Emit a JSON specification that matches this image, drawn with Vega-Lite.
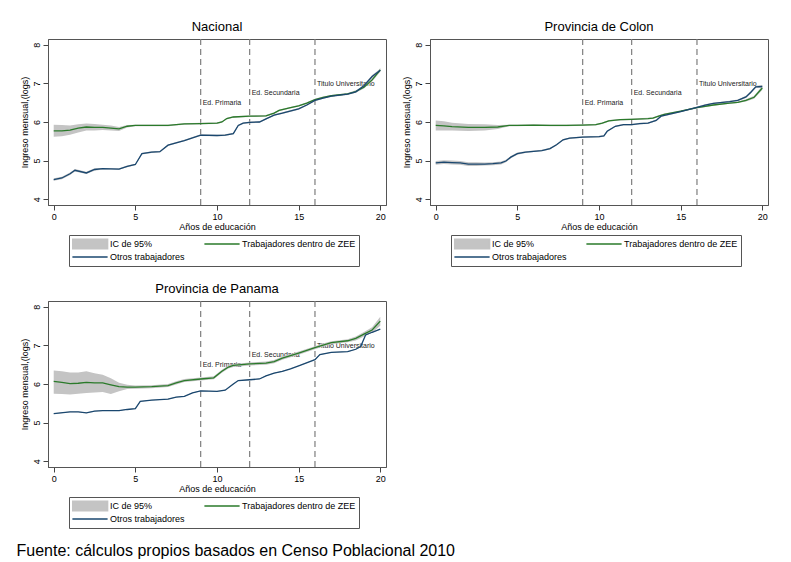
{
  "$schema": "https://vega.github.io/schema/vega-lite/v6.json",
  "background": "white",
  "padding": {"left": 16, "top": 20, "right": 5, "bottom": 2},
  "title": {
    "text": "Fuente: cálculos propios basados en Censo Poblacional 2010",
    "orient": "bottom",
    "anchor": "start",
    "fontSize": 16,
    "offset": 15,
    "dx": -3,
    "dy": -1
  },
  "datasets": {
    "hitos": [
      {"x": 9, "y": 6.48, "t": "Ed. Primaria"},
      {"x": 12, "y": 6.74, "t": "Ed. Secundaria"},
      {"x": 16, "y": 6.98, "t": "Titulo Universitario"}
    ],
    "curvas": [
      {"p": "N", "s": "Trabajadores dentro de ZEE", "x": 0, "y": 5.77, "lo": 5.62, "hi": 5.93},
      {"p": "N", "s": "Trabajadores dentro de ZEE", "x": 0.5, "y": 5.77, "lo": 5.63, "hi": 5.92},
      {"p": "N", "s": "Trabajadores dentro de ZEE", "x": 1, "y": 5.79, "lo": 5.67, "hi": 5.91},
      {"p": "N", "s": "Trabajadores dentro de ZEE", "x": 1.5, "y": 5.84, "lo": 5.73, "hi": 5.94},
      {"p": "N", "s": "Trabajadores dentro de ZEE", "x": 2, "y": 5.87, "lo": 5.78, "hi": 5.96},
      {"p": "N", "s": "Trabajadores dentro de ZEE", "x": 2.5, "y": 5.86, "lo": 5.78, "hi": 5.95},
      {"p": "N", "s": "Trabajadores dentro de ZEE", "x": 3, "y": 5.86, "lo": 5.79, "hi": 5.93},
      {"p": "N", "s": "Trabajadores dentro de ZEE", "x": 3.5, "y": 5.84, "lo": 5.78, "hi": 5.91},
      {"p": "N", "s": "Trabajadores dentro de ZEE", "x": 4, "y": 5.82, "lo": 5.77, "hi": 5.87},
      {"p": "N", "s": "Trabajadores dentro de ZEE", "x": 4.5, "y": 5.89, "lo": 5.86, "hi": 5.92},
      {"p": "N", "s": "Trabajadores dentro de ZEE", "x": 5, "y": 5.91, "lo": 5.89, "hi": 5.93},
      {"p": "N", "s": "Trabajadores dentro de ZEE", "x": 6, "y": 5.91, "lo": 5.89, "hi": 5.93},
      {"p": "N", "s": "Trabajadores dentro de ZEE", "x": 7, "y": 5.91, "lo": 5.89, "hi": 5.93},
      {"p": "N", "s": "Trabajadores dentro de ZEE", "x": 8, "y": 5.95, "lo": 5.93, "hi": 5.97},
      {"p": "N", "s": "Trabajadores dentro de ZEE", "x": 9, "y": 5.96, "lo": 5.94, "hi": 5.98},
      {"p": "N", "s": "Trabajadores dentro de ZEE", "x": 10, "y": 5.97, "lo": 5.95, "hi": 5.99},
      {"p": "N", "s": "Trabajadores dentro de ZEE", "x": 10.3, "y": 6.0, "lo": 5.98, "hi": 6.02},
      {"p": "N", "s": "Trabajadores dentro de ZEE", "x": 10.6, "y": 6.09, "lo": 6.07, "hi": 6.11},
      {"p": "N", "s": "Trabajadores dentro de ZEE", "x": 11, "y": 6.13, "lo": 6.11, "hi": 6.15},
      {"p": "N", "s": "Trabajadores dentro de ZEE", "x": 12, "y": 6.15, "lo": 6.13, "hi": 6.17},
      {"p": "N", "s": "Trabajadores dentro de ZEE", "x": 13, "y": 6.16, "lo": 6.14, "hi": 6.18},
      {"p": "N", "s": "Trabajadores dentro de ZEE", "x": 13.5, "y": 6.23, "lo": 6.21, "hi": 6.25},
      {"p": "N", "s": "Trabajadores dentro de ZEE", "x": 13.8, "y": 6.3, "lo": 6.28, "hi": 6.32},
      {"p": "N", "s": "Trabajadores dentro de ZEE", "x": 14.5, "y": 6.37, "lo": 6.35, "hi": 6.39},
      {"p": "N", "s": "Trabajadores dentro de ZEE", "x": 15, "y": 6.42, "lo": 6.4, "hi": 6.44},
      {"p": "N", "s": "Trabajadores dentro de ZEE", "x": 15.5, "y": 6.49, "lo": 6.47, "hi": 6.51},
      {"p": "N", "s": "Trabajadores dentro de ZEE", "x": 16, "y": 6.58, "lo": 6.56, "hi": 6.6},
      {"p": "N", "s": "Trabajadores dentro de ZEE", "x": 16.5, "y": 6.64, "lo": 6.62, "hi": 6.66},
      {"p": "N", "s": "Trabajadores dentro de ZEE", "x": 17, "y": 6.68, "lo": 6.66, "hi": 6.7},
      {"p": "N", "s": "Trabajadores dentro de ZEE", "x": 18, "y": 6.73, "lo": 6.71, "hi": 6.75},
      {"p": "N", "s": "Trabajadores dentro de ZEE", "x": 18.5, "y": 6.79, "lo": 6.76, "hi": 6.82},
      {"p": "N", "s": "Trabajadores dentro de ZEE", "x": 19, "y": 6.9, "lo": 6.87, "hi": 6.93},
      {"p": "N", "s": "Trabajadores dentro de ZEE", "x": 19.5, "y": 7.09, "lo": 7.05, "hi": 7.13},
      {"p": "N", "s": "Trabajadores dentro de ZEE", "x": 20, "y": 7.35, "lo": 7.3, "hi": 7.4},
      {"p": "N", "s": "Otros trabajadores", "x": 0, "y": 4.51, "lo": 4.48, "hi": 4.54},
      {"p": "N", "s": "Otros trabajadores", "x": 0.5, "y": 4.55, "lo": 4.52, "hi": 4.58},
      {"p": "N", "s": "Otros trabajadores", "x": 1, "y": 4.66, "lo": 4.63, "hi": 4.69},
      {"p": "N", "s": "Otros trabajadores", "x": 1.3, "y": 4.75, "lo": 4.72, "hi": 4.78},
      {"p": "N", "s": "Otros trabajadores", "x": 2, "y": 4.68, "lo": 4.65, "hi": 4.71},
      {"p": "N", "s": "Otros trabajadores", "x": 2.5, "y": 4.77, "lo": 4.74, "hi": 4.8},
      {"p": "N", "s": "Otros trabajadores", "x": 3, "y": 4.79, "lo": 4.77, "hi": 4.81},
      {"p": "N", "s": "Otros trabajadores", "x": 4, "y": 4.78, "lo": 4.76, "hi": 4.8},
      {"p": "N", "s": "Otros trabajadores", "x": 4.5, "y": 4.85, "lo": 4.83, "hi": 4.87},
      {"p": "N", "s": "Otros trabajadores", "x": 5, "y": 4.9, "lo": 4.88, "hi": 4.92},
      {"p": "N", "s": "Otros trabajadores", "x": 5.4, "y": 5.18, "lo": 5.16, "hi": 5.2},
      {"p": "N", "s": "Otros trabajadores", "x": 6, "y": 5.22, "lo": 5.2, "hi": 5.24},
      {"p": "N", "s": "Otros trabajadores", "x": 6.5, "y": 5.23, "lo": 5.21, "hi": 5.25},
      {"p": "N", "s": "Otros trabajadores", "x": 7, "y": 5.4, "lo": 5.38, "hi": 5.42},
      {"p": "N", "s": "Otros trabajadores", "x": 7.5, "y": 5.46, "lo": 5.44, "hi": 5.48},
      {"p": "N", "s": "Otros trabajadores", "x": 8, "y": 5.52, "lo": 5.5, "hi": 5.54},
      {"p": "N", "s": "Otros trabajadores", "x": 8.5, "y": 5.59, "lo": 5.57, "hi": 5.61},
      {"p": "N", "s": "Otros trabajadores", "x": 9, "y": 5.66, "lo": 5.64, "hi": 5.68},
      {"p": "N", "s": "Otros trabajadores", "x": 10, "y": 5.65, "lo": 5.63, "hi": 5.67},
      {"p": "N", "s": "Otros trabajadores", "x": 10.5, "y": 5.66, "lo": 5.64, "hi": 5.68},
      {"p": "N", "s": "Otros trabajadores", "x": 11, "y": 5.7, "lo": 5.68, "hi": 5.72},
      {"p": "N", "s": "Otros trabajadores", "x": 11.3, "y": 5.91, "lo": 5.89, "hi": 5.93},
      {"p": "N", "s": "Otros trabajadores", "x": 11.6, "y": 5.97, "lo": 5.95, "hi": 5.99},
      {"p": "N", "s": "Otros trabajadores", "x": 12, "y": 5.99, "lo": 5.97, "hi": 6.01},
      {"p": "N", "s": "Otros trabajadores", "x": 12.6, "y": 6.0, "lo": 5.98, "hi": 6.02},
      {"p": "N", "s": "Otros trabajadores", "x": 13, "y": 6.08, "lo": 6.06, "hi": 6.1},
      {"p": "N", "s": "Otros trabajadores", "x": 13.5, "y": 6.18, "lo": 6.16, "hi": 6.2},
      {"p": "N", "s": "Otros trabajadores", "x": 14, "y": 6.23, "lo": 6.21, "hi": 6.25},
      {"p": "N", "s": "Otros trabajadores", "x": 15, "y": 6.34, "lo": 6.32, "hi": 6.36},
      {"p": "N", "s": "Otros trabajadores", "x": 15.5, "y": 6.44, "lo": 6.42, "hi": 6.46},
      {"p": "N", "s": "Otros trabajadores", "x": 16, "y": 6.56, "lo": 6.54, "hi": 6.58},
      {"p": "N", "s": "Otros trabajadores", "x": 16.5, "y": 6.62, "lo": 6.6, "hi": 6.64},
      {"p": "N", "s": "Otros trabajadores", "x": 17, "y": 6.67, "lo": 6.65, "hi": 6.69},
      {"p": "N", "s": "Otros trabajadores", "x": 18, "y": 6.72, "lo": 6.7, "hi": 6.74},
      {"p": "N", "s": "Otros trabajadores", "x": 18.5, "y": 6.78, "lo": 6.76, "hi": 6.8},
      {"p": "N", "s": "Otros trabajadores", "x": 19, "y": 6.94, "lo": 6.91, "hi": 6.97},
      {"p": "N", "s": "Otros trabajadores", "x": 19.5, "y": 7.18, "lo": 7.14, "hi": 7.22},
      {"p": "N", "s": "Otros trabajadores", "x": 20, "y": 7.34, "lo": 7.3, "hi": 7.38},
      {"p": "C", "s": "Trabajadores dentro de ZEE", "x": 0, "y": 5.91, "lo": 5.78, "hi": 6.04},
      {"p": "C", "s": "Trabajadores dentro de ZEE", "x": 0.5, "y": 5.9, "lo": 5.78, "hi": 6.02},
      {"p": "C", "s": "Trabajadores dentro de ZEE", "x": 1, "y": 5.88, "lo": 5.78, "hi": 5.98},
      {"p": "C", "s": "Trabajadores dentro de ZEE", "x": 2, "y": 5.86, "lo": 5.77, "hi": 5.95},
      {"p": "C", "s": "Trabajadores dentro de ZEE", "x": 3, "y": 5.86, "lo": 5.78, "hi": 5.94},
      {"p": "C", "s": "Trabajadores dentro de ZEE", "x": 3.8, "y": 5.87, "lo": 5.82, "hi": 5.92},
      {"p": "C", "s": "Trabajadores dentro de ZEE", "x": 4.5, "y": 5.91, "lo": 5.89, "hi": 5.93},
      {"p": "C", "s": "Trabajadores dentro de ZEE", "x": 5, "y": 5.91, "lo": 5.89, "hi": 5.93},
      {"p": "C", "s": "Trabajadores dentro de ZEE", "x": 6, "y": 5.92, "lo": 5.9, "hi": 5.94},
      {"p": "C", "s": "Trabajadores dentro de ZEE", "x": 7, "y": 5.91, "lo": 5.89, "hi": 5.93},
      {"p": "C", "s": "Trabajadores dentro de ZEE", "x": 8, "y": 5.91, "lo": 5.89, "hi": 5.93},
      {"p": "C", "s": "Trabajadores dentro de ZEE", "x": 9, "y": 5.92, "lo": 5.9, "hi": 5.94},
      {"p": "C", "s": "Trabajadores dentro de ZEE", "x": 9.8, "y": 5.93, "lo": 5.91, "hi": 5.95},
      {"p": "C", "s": "Trabajadores dentro de ZEE", "x": 10.2, "y": 5.97, "lo": 5.95, "hi": 5.99},
      {"p": "C", "s": "Trabajadores dentro de ZEE", "x": 10.6, "y": 6.03, "lo": 6.01, "hi": 6.05},
      {"p": "C", "s": "Trabajadores dentro de ZEE", "x": 11.3, "y": 6.06, "lo": 6.04, "hi": 6.08},
      {"p": "C", "s": "Trabajadores dentro de ZEE", "x": 12, "y": 6.07, "lo": 6.05, "hi": 6.09},
      {"p": "C", "s": "Trabajadores dentro de ZEE", "x": 13, "y": 6.09, "lo": 6.07, "hi": 6.11},
      {"p": "C", "s": "Trabajadores dentro de ZEE", "x": 13.3, "y": 6.1, "lo": 6.08, "hi": 6.12},
      {"p": "C", "s": "Trabajadores dentro de ZEE", "x": 13.7, "y": 6.16, "lo": 6.14, "hi": 6.18},
      {"p": "C", "s": "Trabajadores dentro de ZEE", "x": 14, "y": 6.2, "lo": 6.18, "hi": 6.22},
      {"p": "C", "s": "Trabajadores dentro de ZEE", "x": 15, "y": 6.28, "lo": 6.26, "hi": 6.3},
      {"p": "C", "s": "Trabajadores dentro de ZEE", "x": 16, "y": 6.37, "lo": 6.35, "hi": 6.39},
      {"p": "C", "s": "Trabajadores dentro de ZEE", "x": 17, "y": 6.44, "lo": 6.42, "hi": 6.46},
      {"p": "C", "s": "Trabajadores dentro de ZEE", "x": 18, "y": 6.49, "lo": 6.47, "hi": 6.51},
      {"p": "C", "s": "Trabajadores dentro de ZEE", "x": 18.5, "y": 6.51, "lo": 6.49, "hi": 6.53},
      {"p": "C", "s": "Trabajadores dentro de ZEE", "x": 19, "y": 6.56, "lo": 6.53, "hi": 6.59},
      {"p": "C", "s": "Trabajadores dentro de ZEE", "x": 19.5, "y": 6.64, "lo": 6.6, "hi": 6.68},
      {"p": "C", "s": "Trabajadores dentro de ZEE", "x": 20, "y": 6.88, "lo": 6.83, "hi": 6.93},
      {"p": "C", "s": "Otros trabajadores", "x": 0, "y": 4.94, "lo": 4.89, "hi": 4.99},
      {"p": "C", "s": "Otros trabajadores", "x": 0.5, "y": 4.96, "lo": 4.91, "hi": 5.01},
      {"p": "C", "s": "Otros trabajadores", "x": 1, "y": 4.95, "lo": 4.9, "hi": 5.0},
      {"p": "C", "s": "Otros trabajadores", "x": 1.5, "y": 4.94, "lo": 4.89, "hi": 4.99},
      {"p": "C", "s": "Otros trabajadores", "x": 2, "y": 4.91, "lo": 4.86, "hi": 4.96},
      {"p": "C", "s": "Otros trabajadores", "x": 2.5, "y": 4.91, "lo": 4.86, "hi": 4.96},
      {"p": "C", "s": "Otros trabajadores", "x": 3, "y": 4.91, "lo": 4.87, "hi": 4.95},
      {"p": "C", "s": "Otros trabajadores", "x": 3.5, "y": 4.92, "lo": 4.88, "hi": 4.96},
      {"p": "C", "s": "Otros trabajadores", "x": 4, "y": 4.94, "lo": 4.9, "hi": 4.98},
      {"p": "C", "s": "Otros trabajadores", "x": 4.3, "y": 4.99, "lo": 4.96, "hi": 5.02},
      {"p": "C", "s": "Otros trabajadores", "x": 4.6, "y": 5.09, "lo": 5.06, "hi": 5.12},
      {"p": "C", "s": "Otros trabajadores", "x": 5, "y": 5.18, "lo": 5.15, "hi": 5.21},
      {"p": "C", "s": "Otros trabajadores", "x": 5.5, "y": 5.22, "lo": 5.2, "hi": 5.24},
      {"p": "C", "s": "Otros trabajadores", "x": 6, "y": 5.24, "lo": 5.22, "hi": 5.26},
      {"p": "C", "s": "Otros trabajadores", "x": 6.5, "y": 5.26, "lo": 5.24, "hi": 5.28},
      {"p": "C", "s": "Otros trabajadores", "x": 7, "y": 5.31, "lo": 5.29, "hi": 5.33},
      {"p": "C", "s": "Otros trabajadores", "x": 7.4, "y": 5.41, "lo": 5.39, "hi": 5.43},
      {"p": "C", "s": "Otros trabajadores", "x": 7.8, "y": 5.54, "lo": 5.52, "hi": 5.56},
      {"p": "C", "s": "Otros trabajadores", "x": 8.2, "y": 5.58, "lo": 5.56, "hi": 5.6},
      {"p": "C", "s": "Otros trabajadores", "x": 9, "y": 5.61, "lo": 5.59, "hi": 5.63},
      {"p": "C", "s": "Otros trabajadores", "x": 10, "y": 5.62, "lo": 5.6, "hi": 5.64},
      {"p": "C", "s": "Otros trabajadores", "x": 10.3, "y": 5.64, "lo": 5.62, "hi": 5.66},
      {"p": "C", "s": "Otros trabajadores", "x": 10.5, "y": 5.76, "lo": 5.74, "hi": 5.78},
      {"p": "C", "s": "Otros trabajadores", "x": 11, "y": 5.89, "lo": 5.87, "hi": 5.91},
      {"p": "C", "s": "Otros trabajadores", "x": 11.5, "y": 5.93, "lo": 5.91, "hi": 5.95},
      {"p": "C", "s": "Otros trabajadores", "x": 12, "y": 5.93, "lo": 5.91, "hi": 5.95},
      {"p": "C", "s": "Otros trabajadores", "x": 12.5, "y": 5.96, "lo": 5.94, "hi": 5.98},
      {"p": "C", "s": "Otros trabajadores", "x": 13, "y": 5.97, "lo": 5.95, "hi": 5.99},
      {"p": "C", "s": "Otros trabajadores", "x": 13.5, "y": 6.04, "lo": 6.02, "hi": 6.06},
      {"p": "C", "s": "Otros trabajadores", "x": 13.8, "y": 6.15, "lo": 6.13, "hi": 6.17},
      {"p": "C", "s": "Otros trabajadores", "x": 14, "y": 6.17, "lo": 6.15, "hi": 6.19},
      {"p": "C", "s": "Otros trabajadores", "x": 15, "y": 6.27, "lo": 6.25, "hi": 6.29},
      {"p": "C", "s": "Otros trabajadores", "x": 16, "y": 6.38, "lo": 6.36, "hi": 6.4},
      {"p": "C", "s": "Otros trabajadores", "x": 16.5, "y": 6.44, "lo": 6.42, "hi": 6.46},
      {"p": "C", "s": "Otros trabajadores", "x": 17, "y": 6.48, "lo": 6.46, "hi": 6.5},
      {"p": "C", "s": "Otros trabajadores", "x": 18, "y": 6.53, "lo": 6.51, "hi": 6.55},
      {"p": "C", "s": "Otros trabajadores", "x": 18.5, "y": 6.56, "lo": 6.54, "hi": 6.58},
      {"p": "C", "s": "Otros trabajadores", "x": 19, "y": 6.65, "lo": 6.62, "hi": 6.68},
      {"p": "C", "s": "Otros trabajadores", "x": 19.3, "y": 6.77, "lo": 6.74, "hi": 6.8},
      {"p": "C", "s": "Otros trabajadores", "x": 19.6, "y": 6.91, "lo": 6.88, "hi": 6.94},
      {"p": "C", "s": "Otros trabajadores", "x": 20, "y": 6.92, "lo": 6.88, "hi": 6.96},
      {"p": "P", "s": "Trabajadores dentro de ZEE", "x": 0, "y": 6.07, "lo": 5.75, "hi": 6.35},
      {"p": "P", "s": "Trabajadores dentro de ZEE", "x": 0.5, "y": 6.04, "lo": 5.74, "hi": 6.33},
      {"p": "P", "s": "Trabajadores dentro de ZEE", "x": 1, "y": 6.01, "lo": 5.73, "hi": 6.3},
      {"p": "P", "s": "Trabajadores dentro de ZEE", "x": 1.5, "y": 6.02, "lo": 5.75, "hi": 6.3},
      {"p": "P", "s": "Trabajadores dentro de ZEE", "x": 2, "y": 6.04, "lo": 5.77, "hi": 6.33},
      {"p": "P", "s": "Trabajadores dentro de ZEE", "x": 2.5, "y": 6.03, "lo": 5.78, "hi": 6.28},
      {"p": "P", "s": "Trabajadores dentro de ZEE", "x": 3, "y": 6.03, "lo": 5.79, "hi": 6.24},
      {"p": "P", "s": "Trabajadores dentro de ZEE", "x": 3.5, "y": 5.98, "lo": 5.74, "hi": 6.15},
      {"p": "P", "s": "Trabajadores dentro de ZEE", "x": 4, "y": 5.93, "lo": 5.81, "hi": 6.03},
      {"p": "P", "s": "Trabajadores dentro de ZEE", "x": 4.5, "y": 5.92, "lo": 5.87, "hi": 5.98},
      {"p": "P", "s": "Trabajadores dentro de ZEE", "x": 5, "y": 5.92, "lo": 5.88, "hi": 5.96},
      {"p": "P", "s": "Trabajadores dentro de ZEE", "x": 6, "y": 5.93, "lo": 5.89, "hi": 5.97},
      {"p": "P", "s": "Trabajadores dentro de ZEE", "x": 7, "y": 5.96, "lo": 5.92, "hi": 6.0},
      {"p": "P", "s": "Trabajadores dentro de ZEE", "x": 7.5, "y": 6.03, "lo": 5.99, "hi": 6.07},
      {"p": "P", "s": "Trabajadores dentro de ZEE", "x": 8, "y": 6.09, "lo": 6.05, "hi": 6.13},
      {"p": "P", "s": "Trabajadores dentro de ZEE", "x": 9, "y": 6.13, "lo": 6.09, "hi": 6.17},
      {"p": "P", "s": "Trabajadores dentro de ZEE", "x": 9.8, "y": 6.16, "lo": 6.12, "hi": 6.2},
      {"p": "P", "s": "Trabajadores dentro de ZEE", "x": 10.3, "y": 6.33, "lo": 6.29, "hi": 6.37},
      {"p": "P", "s": "Trabajadores dentro de ZEE", "x": 10.7, "y": 6.44, "lo": 6.4, "hi": 6.48},
      {"p": "P", "s": "Trabajadores dentro de ZEE", "x": 11, "y": 6.48, "lo": 6.44, "hi": 6.52},
      {"p": "P", "s": "Trabajadores dentro de ZEE", "x": 12, "y": 6.52, "lo": 6.48, "hi": 6.56},
      {"p": "P", "s": "Trabajadores dentro de ZEE", "x": 13, "y": 6.54, "lo": 6.5, "hi": 6.58},
      {"p": "P", "s": "Trabajadores dentro de ZEE", "x": 13.5, "y": 6.58, "lo": 6.54, "hi": 6.62},
      {"p": "P", "s": "Trabajadores dentro de ZEE", "x": 14, "y": 6.67, "lo": 6.63, "hi": 6.71},
      {"p": "P", "s": "Trabajadores dentro de ZEE", "x": 15, "y": 6.8, "lo": 6.76, "hi": 6.84},
      {"p": "P", "s": "Trabajadores dentro de ZEE", "x": 16, "y": 6.94, "lo": 6.9, "hi": 6.98},
      {"p": "P", "s": "Trabajadores dentro de ZEE", "x": 16.5, "y": 7.01, "lo": 6.97, "hi": 7.05},
      {"p": "P", "s": "Trabajadores dentro de ZEE", "x": 17, "y": 7.07, "lo": 7.03, "hi": 7.11},
      {"p": "P", "s": "Trabajadores dentro de ZEE", "x": 18, "y": 7.12, "lo": 7.08, "hi": 7.16},
      {"p": "P", "s": "Trabajadores dentro de ZEE", "x": 18.5, "y": 7.18, "lo": 7.13, "hi": 7.23},
      {"p": "P", "s": "Trabajadores dentro de ZEE", "x": 19, "y": 7.29, "lo": 7.23, "hi": 7.35},
      {"p": "P", "s": "Trabajadores dentro de ZEE", "x": 19.5, "y": 7.4, "lo": 7.33, "hi": 7.47},
      {"p": "P", "s": "Trabajadores dentro de ZEE", "x": 20, "y": 7.63, "lo": 7.51, "hi": 7.74},
      {"p": "P", "s": "Otros trabajadores", "x": 0, "y": 5.23, "lo": 5.22, "hi": 5.24},
      {"p": "P", "s": "Otros trabajadores", "x": 1, "y": 5.28, "lo": 5.27, "hi": 5.29},
      {"p": "P", "s": "Otros trabajadores", "x": 1.5, "y": 5.28, "lo": 5.27, "hi": 5.29},
      {"p": "P", "s": "Otros trabajadores", "x": 2, "y": 5.25, "lo": 5.24, "hi": 5.26},
      {"p": "P", "s": "Otros trabajadores", "x": 2.5, "y": 5.3, "lo": 5.29, "hi": 5.31},
      {"p": "P", "s": "Otros trabajadores", "x": 3, "y": 5.31, "lo": 5.3, "hi": 5.32},
      {"p": "P", "s": "Otros trabajadores", "x": 4, "y": 5.31, "lo": 5.3, "hi": 5.32},
      {"p": "P", "s": "Otros trabajadores", "x": 4.5, "y": 5.34, "lo": 5.33, "hi": 5.35},
      {"p": "P", "s": "Otros trabajadores", "x": 5, "y": 5.36, "lo": 5.35, "hi": 5.37},
      {"p": "P", "s": "Otros trabajadores", "x": 5.3, "y": 5.55, "lo": 5.54, "hi": 5.56},
      {"p": "P", "s": "Otros trabajadores", "x": 6, "y": 5.58, "lo": 5.57, "hi": 5.59},
      {"p": "P", "s": "Otros trabajadores", "x": 7, "y": 5.61, "lo": 5.6, "hi": 5.62},
      {"p": "P", "s": "Otros trabajadores", "x": 7.5, "y": 5.66, "lo": 5.65, "hi": 5.67},
      {"p": "P", "s": "Otros trabajadores", "x": 8, "y": 5.68, "lo": 5.67, "hi": 5.69},
      {"p": "P", "s": "Otros trabajadores", "x": 8.5, "y": 5.77, "lo": 5.76, "hi": 5.78},
      {"p": "P", "s": "Otros trabajadores", "x": 9, "y": 5.82, "lo": 5.81, "hi": 5.83},
      {"p": "P", "s": "Otros trabajadores", "x": 10, "y": 5.81, "lo": 5.8, "hi": 5.82},
      {"p": "P", "s": "Otros trabajadores", "x": 10.5, "y": 5.84, "lo": 5.83, "hi": 5.85},
      {"p": "P", "s": "Otros trabajadores", "x": 11, "y": 6.0, "lo": 5.99, "hi": 6.01},
      {"p": "P", "s": "Otros trabajadores", "x": 11.3, "y": 6.09, "lo": 6.08, "hi": 6.1},
      {"p": "P", "s": "Otros trabajadores", "x": 12, "y": 6.11, "lo": 6.1, "hi": 6.12},
      {"p": "P", "s": "Otros trabajadores", "x": 12.6, "y": 6.13, "lo": 6.12, "hi": 6.14},
      {"p": "P", "s": "Otros trabajadores", "x": 13, "y": 6.21, "lo": 6.2, "hi": 6.22},
      {"p": "P", "s": "Otros trabajadores", "x": 13.5, "y": 6.28, "lo": 6.27, "hi": 6.29},
      {"p": "P", "s": "Otros trabajadores", "x": 14, "y": 6.33, "lo": 6.32, "hi": 6.34},
      {"p": "P", "s": "Otros trabajadores", "x": 14.5, "y": 6.39, "lo": 6.38, "hi": 6.4},
      {"p": "P", "s": "Otros trabajadores", "x": 15, "y": 6.47, "lo": 6.46, "hi": 6.48},
      {"p": "P", "s": "Otros trabajadores", "x": 16, "y": 6.63, "lo": 6.62, "hi": 6.64},
      {"p": "P", "s": "Otros trabajadores", "x": 16.3, "y": 6.76, "lo": 6.75, "hi": 6.77},
      {"p": "P", "s": "Otros trabajadores", "x": 17, "y": 6.82, "lo": 6.81, "hi": 6.83},
      {"p": "P", "s": "Otros trabajadores", "x": 18, "y": 6.84, "lo": 6.83, "hi": 6.85},
      {"p": "P", "s": "Otros trabajadores", "x": 18.5, "y": 6.9, "lo": 6.89, "hi": 6.91},
      {"p": "P", "s": "Otros trabajadores", "x": 18.8, "y": 6.97, "lo": 6.96, "hi": 6.98},
      {"p": "P", "s": "Otros trabajadores", "x": 19.1, "y": 7.27, "lo": 7.26, "hi": 7.28},
      {"p": "P", "s": "Otros trabajadores", "x": 19.5, "y": 7.34, "lo": 7.33, "hi": 7.35},
      {"p": "P", "s": "Otros trabajadores", "x": 20, "y": 7.42, "lo": 7.41, "hi": 7.43}
    ]
  },
  "columns": 2,
  "spacing": {"row": 15, "column": 14},
  "resolve": {"scale": {"color": "independent"}, "legend": {"color": "independent"}},
  "concat": [
    {
      "title": "Nacional",
      "width": 338,
      "height": 166,
      "encoding": {
        "x": {"field": "x", "type": "quantitative", "title": "Años de educación",
              "scale": {"domain": [-0.35, 20.35], "nice": false}, "axis": {"values": [0, 5, 10, 15, 20]}}
      },
      "layer": [
        {
          "data": {"name": "hitos"},
          "mark": {"type": "text", "align": "left", "baseline": "middle", "dx": 2, "fontSize": 7, "font": "Liberation Sans", "color": "#222"},
          "encoding": {
            "y": {"field": "y", "type": "quantitative", "title": "Ingreso mensual,(logs)", "scale": {"domain": [3.85, 8.15], "nice": false}, "axis": {"values": [4, 5, 6, 7, 8]}},
            "text": {"field": "t"}
          }
        },
        {
          "data": {"name": "hitos"},
          "mark": {"type": "rule", "color": "#7f7f7f", "strokeDash": [6, 4], "strokeWidth": 1.2},
          "encoding": {}
        },
        {
          "data": {"name": "curvas"},
          "transform": [{"filter": "datum.p == 'N'"}],
          "mark": {"type": "area", "opacity": 1},
          "encoding": {
            "y": {"field": "lo", "type": "quantitative", "stack": null, "title": "Ingreso mensual,(logs)", "scale": {"domain": [3.85, 8.15], "nice": false}, "axis": {"values": [4, 5, 6, 7, 8]}},
            "y2": {"field": "hi"},
            "detail": {"field": "s"},
            "color": {"datum": "IC de 95%", "type": "nominal",
                      "scale": {"domain": ["IC de 95%", "Otros trabajadores", "Trabajadores dentro de ZEE"], "range": ["#c4c4c4", "#1a476f", "#2a7a2a"]}}
          }
        },
        {
          "data": {"name": "curvas"},
          "transform": [{"filter": "datum.p == 'N'"}],
          "mark": {"type": "line", "strokeWidth": 1.3},
          "encoding": {
            "y": {"field": "y", "type": "quantitative", "title": "Ingreso mensual,(logs)", "scale": {"domain": [3.85, 8.15], "nice": false}, "axis": {"values": [4, 5, 6, 7, 8]}},
            "color": {"field": "s", "type": "nominal",
                      "scale": {"domain": ["IC de 95%", "Otros trabajadores", "Trabajadores dentro de ZEE"], "range": ["#c4c4c4", "#1a476f", "#2a7a2a"]},
                      "legend": {"title": null, "orient": "none", "legendX": 21, "legendY": 196, "columns": 2, "columnPadding": 19, "rowPadding": 1, "clipHeight": 12,
                                 "symbolType": "M-4.4,0L4.4,0", "symbolSize": 64, "symbolStrokeWidth": 1.5, "symbolOffset": 13, "labelOffset": 15, "labelLimit": 250, "padding": 3,
                                 "strokeColor": "#555", "fillColor": "#fff",
                                 "encode": {"symbols": {"update": {
                                   "shape": {"signal": "datum.value === 'IC de 95%' ? 'M-4.4,-1.2H4.4V1.2H-4.4Z' : 'M-4.4,-1.2M-4.4,0L4.4,0M4.4,1.2'"},
                                   "fill": {"signal": "datum.value === 'IC de 95%' ? '#c4c4c4' : 'transparent'"},
                                   "stroke": {"signal": "datum.value === 'IC de 95%' ? '#c4c4c4' : datum.value === 'Otros trabajadores' ? '#1a476f' : '#2a7a2a'"},
                                   "opacity": {"value": 1}}}}}}
          }
        }
      ]
    },
    {
      "title": "Provincia de Colon",
      "width": 338,
      "height": 166,
      "encoding": {
        "x": {"field": "x", "type": "quantitative", "title": "Años de educación",
              "scale": {"domain": [-0.35, 20.35], "nice": false}, "axis": {"values": [0, 5, 10, 15, 20]}}
      },
      "layer": [
        {
          "data": {"name": "hitos"},
          "mark": {"type": "text", "align": "left", "baseline": "middle", "dx": 2, "fontSize": 7, "font": "Liberation Sans", "color": "#222"},
          "encoding": {
            "y": {"field": "y", "type": "quantitative", "title": "Ingreso mensual,(logs)", "scale": {"domain": [3.85, 8.15], "nice": false}, "axis": {"values": [4, 5, 6, 7, 8]}},
            "text": {"field": "t"}
          }
        },
        {
          "data": {"name": "hitos"},
          "mark": {"type": "rule", "color": "#7f7f7f", "strokeDash": [6, 4], "strokeWidth": 1.2},
          "encoding": {}
        },
        {
          "data": {"name": "curvas"},
          "transform": [{"filter": "datum.p == 'C'"}],
          "mark": {"type": "area", "opacity": 1},
          "encoding": {
            "y": {"field": "lo", "type": "quantitative", "stack": null, "title": "Ingreso mensual,(logs)", "scale": {"domain": [3.85, 8.15], "nice": false}, "axis": {"values": [4, 5, 6, 7, 8]}},
            "y2": {"field": "hi"},
            "detail": {"field": "s"},
            "color": {"datum": "IC de 95%", "type": "nominal",
                      "scale": {"domain": ["IC de 95%", "Otros trabajadores", "Trabajadores dentro de ZEE"], "range": ["#c4c4c4", "#1a476f", "#2a7a2a"]}}
          }
        },
        {
          "data": {"name": "curvas"},
          "transform": [{"filter": "datum.p == 'C'"}],
          "mark": {"type": "line", "strokeWidth": 1.3},
          "encoding": {
            "y": {"field": "y", "type": "quantitative", "title": "Ingreso mensual,(logs)", "scale": {"domain": [3.85, 8.15], "nice": false}, "axis": {"values": [4, 5, 6, 7, 8]}},
            "color": {"field": "s", "type": "nominal",
                      "scale": {"domain": ["IC de 95%", "Otros trabajadores", "Trabajadores dentro de ZEE"], "range": ["#c4c4c4", "#1a476f", "#2a7a2a"]},
                      "legend": {"title": null, "orient": "none", "legendX": 21, "legendY": 196, "columns": 2, "columnPadding": 19, "rowPadding": 1, "clipHeight": 12,
                                 "symbolType": "M-4.4,0L4.4,0", "symbolSize": 64, "symbolStrokeWidth": 1.5, "symbolOffset": 13, "labelOffset": 15, "labelLimit": 250, "padding": 3,
                                 "strokeColor": "#555", "fillColor": "#fff",
                                 "encode": {"symbols": {"update": {
                                   "shape": {"signal": "datum.value === 'IC de 95%' ? 'M-4.4,-1.2H4.4V1.2H-4.4Z' : 'M-4.4,-1.2M-4.4,0L4.4,0M4.4,1.2'"},
                                   "fill": {"signal": "datum.value === 'IC de 95%' ? '#c4c4c4' : 'transparent'"},
                                   "stroke": {"signal": "datum.value === 'IC de 95%' ? '#c4c4c4' : datum.value === 'Otros trabajadores' ? '#1a476f' : '#2a7a2a'"},
                                   "opacity": {"value": 1}}}}}}
          }
        }
      ]
    },
    {
      "title": "Provincia de Panama",
      "width": 338,
      "height": 166,
      "encoding": {
        "x": {"field": "x", "type": "quantitative", "title": "Años de educación",
              "scale": {"domain": [-0.35, 20.35], "nice": false}, "axis": {"values": [0, 5, 10, 15, 20]}}
      },
      "layer": [
        {
          "data": {"name": "hitos"},
          "mark": {"type": "text", "align": "left", "baseline": "middle", "dx": 2, "fontSize": 7, "font": "Liberation Sans", "color": "#222"},
          "encoding": {
            "y": {"field": "y", "type": "quantitative", "title": "Ingreso mensual,(logs)", "scale": {"domain": [3.85, 8.15], "nice": false}, "axis": {"values": [4, 5, 6, 7, 8]}},
            "text": {"field": "t"}
          }
        },
        {
          "data": {"name": "hitos"},
          "mark": {"type": "rule", "color": "#7f7f7f", "strokeDash": [6, 4], "strokeWidth": 1.2},
          "encoding": {}
        },
        {
          "data": {"name": "curvas"},
          "transform": [{"filter": "datum.p == 'P'"}],
          "mark": {"type": "area", "opacity": 1},
          "encoding": {
            "y": {"field": "lo", "type": "quantitative", "stack": null, "title": "Ingreso mensual,(logs)", "scale": {"domain": [3.85, 8.15], "nice": false}, "axis": {"values": [4, 5, 6, 7, 8]}},
            "y2": {"field": "hi"},
            "detail": {"field": "s"},
            "color": {"datum": "IC de 95%", "type": "nominal",
                      "scale": {"domain": ["IC de 95%", "Otros trabajadores", "Trabajadores dentro de ZEE"], "range": ["#c4c4c4", "#1a476f", "#2a7a2a"]}}
          }
        },
        {
          "data": {"name": "curvas"},
          "transform": [{"filter": "datum.p == 'P'"}],
          "mark": {"type": "line", "strokeWidth": 1.3},
          "encoding": {
            "y": {"field": "y", "type": "quantitative", "title": "Ingreso mensual,(logs)", "scale": {"domain": [3.85, 8.15], "nice": false}, "axis": {"values": [4, 5, 6, 7, 8]}},
            "color": {"field": "s", "type": "nominal",
                      "scale": {"domain": ["IC de 95%", "Otros trabajadores", "Trabajadores dentro de ZEE"], "range": ["#c4c4c4", "#1a476f", "#2a7a2a"]},
                      "legend": {"title": null, "orient": "none", "legendX": 21, "legendY": 196, "columns": 2, "columnPadding": 19, "rowPadding": 1, "clipHeight": 12,
                                 "symbolType": "M-4.4,0L4.4,0", "symbolSize": 64, "symbolStrokeWidth": 1.5, "symbolOffset": 13, "labelOffset": 15, "labelLimit": 250, "padding": 3,
                                 "strokeColor": "#555", "fillColor": "#fff",
                                 "encode": {"symbols": {"update": {
                                   "shape": {"signal": "datum.value === 'IC de 95%' ? 'M-4.4,-1.2H4.4V1.2H-4.4Z' : 'M-4.4,-1.2M-4.4,0L4.4,0M4.4,1.2'"},
                                   "fill": {"signal": "datum.value === 'IC de 95%' ? '#c4c4c4' : 'transparent'"},
                                   "stroke": {"signal": "datum.value === 'IC de 95%' ? '#c4c4c4' : datum.value === 'Otros trabajadores' ? '#1a476f' : '#2a7a2a'"},
                                   "opacity": {"value": 1}}}}}}
          }
        }
      ]
    }
  ],
  "config": {
    "font": "Liberation Sans",
    "view": {"stroke": "#555", "strokeWidth": 1},
    "title": {"font": "Liberation Sans", "fontSize": 13, "fontWeight": "normal", "color": "#000", "offset": 0},
    "axis": {
      "labelFont": "Liberation Sans", "labelFontSize": 9, "labelColor": "#000",
      "titleFont": "Liberation Sans", "titleFontSize": 9, "titleFontWeight": "normal", "titleColor": "#000",
      "grid": false, "tickSize": 5, "tickColor": "#444", "domainColor": "#555", "labelPadding": 2, "labelFlush": false, "labelOverlap": false
    },
    "axisX": {"titlePadding": 1},
    "axisY": {"labelAngle": 270, "labelAlign": "center", "labelBaseline": "bottom", "titlePadding": 3},
    "legend": {"labelFont": "Liberation Sans", "labelFontSize": 9, "labelColor": "#000"}
  }
}
